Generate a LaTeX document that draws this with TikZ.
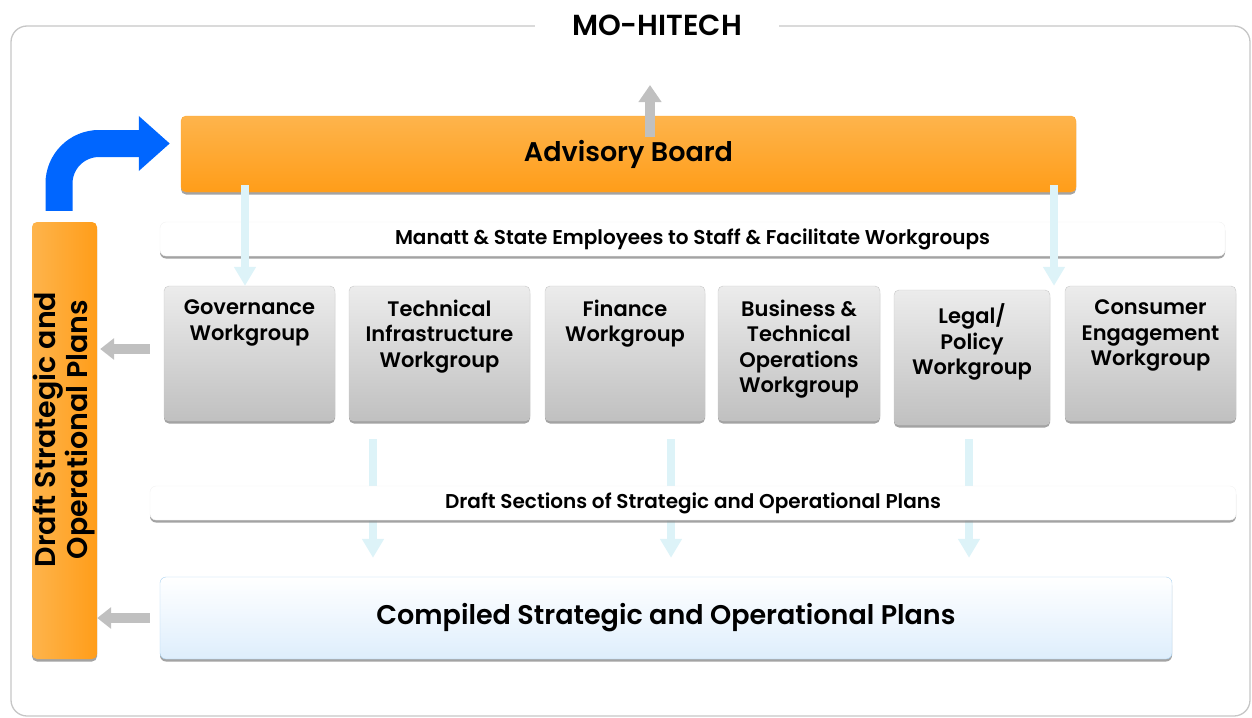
\documentclass[tikz,border=0pt]{standalone}
\usepackage{fontspec}
\setmainfont{Poppins}[BoldFont={Poppins SemiBold}]
\usepackage{tikz}
\usetikzlibrary{calc}
\usetikzlibrary{arrows.meta}
\usetikzlibrary{shadows}
\definecolor{amber}{RGB}{254, 180, 76}
\definecolor{tangerine}{RGB}{255, 157, 25}
\definecolor{azure}{RGB}{0, 102, 255}
\definecolor{icecyan}{RGB}{221, 243, 248}
\definecolor{silver}{RGB}{192, 192, 192}
\definecolor{cloud}{RGB}{236, 236, 236}
\definecolor{frost}{RGB}{222, 238, 252}
\definecolor{skyline}{RGB}{170, 210, 240}

\newcommand{\wgtext}[2]{\parbox[c][107pt][t]{#1}{\centering #2}}

\tikzset{
    frame/.style     = {draw=silver!90, line width=1.3pt, rounded corners=16pt},
    title/.style     = {fill=white, inner xsep=37pt, font=\fontsize{29}{32}\selectfont\bfseries},
    softshadow/.style= {drop shadow={shadow xshift=0pt, shadow yshift=-2.5pt, fill=black!45, opacity=.8}},
    board/.style     = {rounded corners=5pt, top color=amber, bottom color=tangerine, draw=tangerine!90,
                        softshadow, minimum width=895pt, minimum height=76pt,
                        font=\fontsize{27}{32}\selectfont\bfseries},
    bar/.style       = {fill=white, draw=black!5, rounded corners=6pt, softshadow, minimum height=34pt,
                        font=\fontsize{20}{22}\selectfont\bfseries},
    wgbox/.style     = {rounded corners=5pt, top color=cloud, bottom color=silver, draw=black!22,
                        softshadow, inner xsep=0pt, inner ysep=14pt,
                        font=\fontsize{21}{25.5}\selectfont\bfseries},
    ldraft/.style    = {rounded corners=5pt, left color=amber, right color=tangerine, softshadow,
                        minimum width=65pt, minimum height=437pt, inner sep=0pt,
                        font=\fontsize{28.5}{32}\selectfont\bfseries},
    comp/.style      = {rounded corners=6pt, top color=white, bottom color=frost, draw=skyline,
                        softshadow, minimum width=1012pt, minimum height=82pt,
                        font=\fontsize{27}{32}\selectfont\bfseries},
    uparrow/.style   = {draw=silver, line width=10pt, -{Triangle[width=22pt, length=17pt]}},
    dnarrow/.style   = {draw=icecyan, line width=8pt, -{Triangle[width=21pt, length=19pt]}},
    ltarrow/.style   = {draw=silver, line width=10pt, -{Triangle[width=21pt, length=14pt]}},
    bendarrow/.style = {draw=azure, line width=27pt, rounded corners=40pt, -{Triangle[width=53pt, length=31pt]}}
}

\begin{document}
\begin{tikzpicture}[x=1pt, y=1pt]
    \useasboundingbox (0,0) rectangle (1252,-717);
    % Outer frame & title
    \draw[frame]                         (11,-26) rectangle (1250,-716);
    \node[title] (title) at (657,-25)    {MO-HITECH};
    % Staff bar & advisory board
    \node[bar, minimum width=1065pt] (staff) at (692.5,-239) {Manatt \& State Employees to Staff \& Facilitate Workgroups};
    \node[board] (board) at (628.5,-154) {Advisory Board};
    % Workgroups
    \node[wgbox] (gov)   at ( 249.5,-353.5) {\wgtext{171pt}{Governance\\Workgroup}};
    \node[wgbox] (tech)  at ( 439.5,-353.5) {\wgtext{181pt}{Technical\\Infrastructure\\Workgroup}};
    \node[wgbox] (fin)   at ( 625.0,-353.5) {\wgtext{160pt}{Finance\\Workgroup}};
    \node[wgbox] (bus)   at ( 799.0,-353.5) {\wgtext{162pt}{Business \&\\Technical\\Operations\\Workgroup}};
    \node[wgbox] (legal) at ( 972.0,-357.5) {\wgtext{156pt}{Legal/\\Policy\\Workgroup}};
    \node[wgbox] (cons)  at (1150.5,-353.5) {\wgtext{171pt}{Consumer\\Engagement\\Workgroup}};
    % Compiled plans & draft column
    \node[comp]   (comp)   at (666,-618)    {Compiled Strategic and Operational Plans};
    \node[ldraft] (ldraft) at (64.5,-440.5) {\rotatebox{90}{\hspace*{22pt}\parbox{330pt}{\centering Draft Strategic and\\Operational Plans}}};
    % Arrow columns
    \coordinate (top) at ( 650,-85);
    \coordinate (c0)  at ( 245,0);
    \coordinate (c1)  at (1054,0);
    \coordinate (c2)  at ( 373,0);
    \coordinate (c3)  at ( 671,0);
    \coordinate (c4)  at ( 969,0);
    % Board up & down
    \draw[uparrow, shorten <=-21pt]                (board.north -| top) -- (top);
    \draw[dnarrow, shorten <=-7pt]                 (board.south -| c0)  -- (gov.north -| c0);
    \draw[dnarrow, shorten <=-7pt]                 (board.south -| c1)  -- (cons.north -| c1);
    % Workgroups down to compiled plans
    \draw[dnarrow, shorten <=18pt, shorten >=19pt] (tech.south -| c2)   -- (comp.north -| c2);
    \draw[dnarrow, shorten <=18pt, shorten >=19pt] (fin.south -| c3)    -- (comp.north -| c3);
    \draw[dnarrow, shorten <=14pt, shorten >=19pt] (legal.south -| c4)  -- (comp.north -| c4);
    \node[bar, minimum width=1086pt] (sect) at (693,-503) {Draft Sections of Strategic and Operational Plans};
    % Back to the draft column
    \draw[ltarrow, shorten <=14pt, shorten >=3pt]  ([yshift=4.5pt]gov.west) -- ([yshift=4.5pt]gov.west -| ldraft.east);
    \draw[ltarrow, shorten <=10pt]                 (comp.west) -- (comp.west -| ldraft.east);
    % Draft column up to the board
    \draw[bendarrow] ([xshift=-5.5pt, yshift=11pt]ldraft.north) |- ([xshift=-11pt, yshift=10.5pt]board.west);
\end{tikzpicture}
\end{document}
